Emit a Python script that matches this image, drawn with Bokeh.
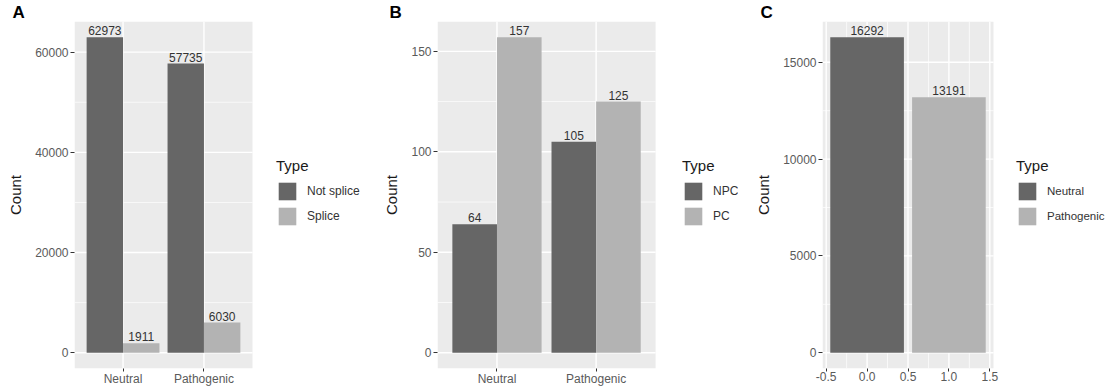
from bokeh.plotting import figure
from bokeh.layouts import row
from bokeh.models import (Range1d, FixedTicker, Legend, LegendItem, Title, ColumnDataSource)
from bokeh.embed import file_html
from bokeh.resources import INLINE

# ---------------- data ----------------
a_groups = ["Neutral", "Pathogenic"]
a_types = ["Not splice", "Splice"]
a_not_splice = [62973, 57735]
a_splice = [1911, 6030]

b_groups = ["Neutral", "Pathogenic"]
b_types = ["NPC", "PC"]
b_npc = [64, 105]
b_pc = [157, 125]

c_types = ["Neutral", "Pathogenic"]
c_x = [0, 1]
c_counts = [16292, 13191]

a_yticks = [0, 20000, 40000, 60000]
a_yminor = [10000, 30000, 50000]
b_yticks = [0, 50, 100, 150]
b_yminor = [25, 75, 125]
c_yticks = [0, 5000, 10000, 15000]
c_yminor = [2500, 7500, 12500]
c_xticks = [-0.5, 0.0, 0.5, 1.0, 1.5]
c_xminor = [-0.25, 0.25, 0.75, 1.25]

# ---------------- style ----------------
FONT = "Liberation Sans"
DARK = "#666666"
LIGHT = "#b3b3b3"
PANEL_BG = "#ebebeb"
TICK_COL = "#5a5a5a"
H = 388
FRAME_TOP = 17
FRAME_BOTTOM = 18
LEG_Y = 141


def make_fig(width, left, panel_w, xr, yr, xticks, xminor, yticks, yminor, tag, tag_off):
    """Panel area = xr in data units over panel_w px; the frame extends to the right
    (white) so that the legend can sit inside the frame."""
    right = 2
    frame_w = width - left - right
    ppu = panel_w / (xr[1] - xr[0])
    x_end = xr[0] + frame_w / ppu
    p = figure(width=width, height=H, output_backend="svg", toolbar_location=None,
               x_range=Range1d(xr[0], x_end), y_range=Range1d(*yr),
               min_border_left=left, min_border_right=right,
               min_border_top=FRAME_TOP, min_border_bottom=FRAME_BOTTOM,
               title=Title(text=tag, align="left", offset=tag_off, standoff=0,
                           text_font=FONT, text_font_size="17px", text_font_style="bold",
                           text_color="black"))
    p.background_fill_color = "white"
    p.border_fill_color = "white"
    p.outline_line_color = None
    p.xgrid.visible = False
    p.ygrid.visible = False
    # panel background and grid
    p.quad(left=[xr[0]], right=[xr[1]], bottom=[yr[0]], top=[yr[1]],
           fill_color=PANEL_BG, line_color=None)
    p.segment(x0=[xr[0]] * len(yminor), x1=[xr[1]] * len(yminor), y0=yminor, y1=yminor,
              line_color="white", line_width=0.7)
    p.segment(x0=list(xminor), x1=list(xminor), y0=[yr[0]] * len(xminor), y1=[yr[1]] * len(xminor),
              line_color="white", line_width=0.7)
    p.segment(x0=[xr[0]] * len(yticks), x1=[xr[1]] * len(yticks), y0=yticks, y1=yticks,
              line_color="white", line_width=1.4)
    p.segment(x0=list(xticks), x1=list(xticks), y0=[yr[0]] * len(xticks), y1=[yr[1]] * len(xticks),
              line_color="white", line_width=1.4)
    for ax in (p.xaxis[0], p.yaxis[0]):
        ax.axis_line_color = None
        ax.major_tick_line_color = "#333333"
        ax.major_tick_out = 4
        ax.major_tick_in = 0
        ax.minor_tick_line_color = None
        ax.major_label_text_font = FONT
        ax.major_label_text_font_size = "12px"
        ax.major_label_text_color = TICK_COL
        ax.major_label_standoff = 2
    p.xaxis.major_tick_out = 3
    p.xaxis.major_label_standoff = 0
    p.xaxis.ticker = FixedTicker(ticks=list(xticks))
    p.yaxis.ticker = FixedTicker(ticks=list(yticks))
    p.yaxis.axis_label = "Count"
    p.yaxis.axis_label_text_font = FONT
    p.yaxis.axis_label_text_font_size = "15px"
    p.yaxis.axis_label_text_font_style = "normal"
    p.yaxis.axis_label_text_color = "#1a1a1a"
    p.yaxis.axis_label_standoff = 8
    return p


def add_legend(p, renderers, labels, x, label_size):
    items = [LegendItem(label=l, renderers=[r]) for l, r in zip(labels, renderers)]
    lg = Legend(items=items, location=(x, LEG_Y), title="Type",
                title_text_font=FONT, title_text_font_size="15px", title_text_font_style="normal",
                title_text_color="#1a1a1a", title_standoff=6,
                label_text_font=FONT, label_text_font_size=label_size, label_text_color="#333333",
                glyph_width=22, glyph_height=22, label_height=22, spacing=3, label_standoff=9,
                padding=0, margin=0, border_line_color=None, background_fill_alpha=0)
    p.add_layout(lg, "center")


def bar_labels(p, xs, ys):
    src = ColumnDataSource(dict(x=xs, y=ys, t=[str(v) for v in ys]))
    p.text(x="x", y="y", text="t", source=src, text_align="center", text_baseline="bottom",
           y_offset=-2, text_font_size="12px", text_color="#333333",
           text_font={"value": FONT})


def dodge_fig(groups, s1, s2, types, width, left, panel_w, yr, yticks, yminor, tag, tag_off, legx):
    idx = [i + 1 for i in range(len(groups))]
    p = make_fig(width, left, panel_w, (0.4, 2.6), yr, idx, [], yticks, yminor, tag, tag_off)
    x1 = [i - 0.225 for i in idx]
    x2 = [i + 0.225 for i in idx]
    r1 = p.vbar(x=x1, top=s1, width=0.45, bottom=0, fill_color=DARK, line_color=None)
    r2 = p.vbar(x=x2, top=s2, width=0.45, bottom=0, fill_color=LIGHT, line_color=None)
    bar_labels(p, x1 + x2, list(s1) + list(s2))
    p.xaxis.major_label_overrides = {i: g for i, g in zip(idx, groups)}
    add_legend(p, [r1, r2], types, legx, "12px")
    return p


pA = dodge_fig(a_groups, a_not_splice, a_splice, a_types, 380, 74, 178,
               (-3149, 66122), a_yticks, a_yminor, "A", -62, 202)
pB = dodge_fig(b_groups, b_npc, b_pc, b_types, 360, 53, 221,
               (-7.85, 164.85), b_yticks, b_yminor, "B", -48, 245)

# panel C
pC = make_fig(370, 82, 171, (-0.545, 1.545), (-815, 17107), c_xticks, c_xminor,
              c_yticks, c_yminor, "C", -62)
rc1 = pC.vbar(x=[c_x[0]], top=[c_counts[0]], width=0.9, bottom=0, fill_color=DARK, line_color=None)
rc2 = pC.vbar(x=[c_x[1]], top=[c_counts[1]], width=0.9, bottom=0, fill_color=LIGHT, line_color=None)
bar_labels(pC, c_x, c_counts)
pC.xaxis.major_label_overrides = {t: f"{t:.1f}" for t in c_xticks}
add_legend(pC, [rc1, rc2], c_types, 194, "11.5px")

layout = row(pA, pB, pC)
open("out.html", "w").write(file_html(layout, INLINE))
